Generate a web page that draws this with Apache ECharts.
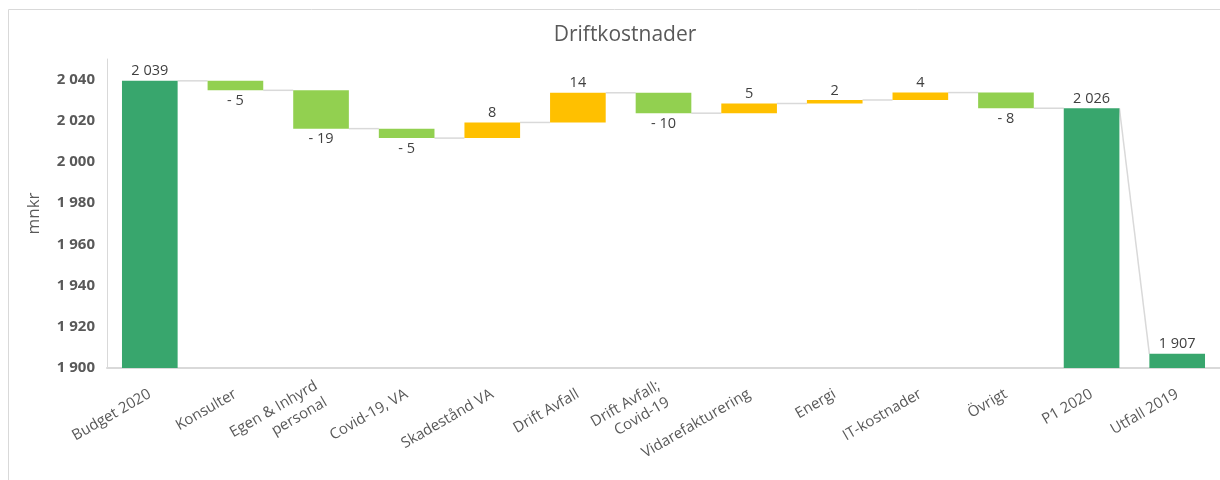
<!DOCTYPE html>
<html>
<head>
<meta charset="utf-8">
<script src="https://cdn.jsdelivr.net/npm/echarts@6/dist/echarts.min.js"></script>
<style>
  html, body { margin: 0; padding: 0; background: #fff; }
  #main { width: 1220px; height: 480px; }
</style>
</head>
<body>
<div id="main"></div>
<script>
// kategorier i ordning
var categories = ['Budget 2020', 'Konsulter', 'Egen & Inhyrd\npersonal', 'Covid-19, VA', 'Skadestånd VA',
    'Drift Avfall', 'Drift Avfall;\nCovid-19', 'Vidarefakturering', 'Energi', 'IT-kostnader', 'Övrigt',
    'P1 2020', 'Utfall 2019'];

// summor (mnkr)
var budget2020 = 2039.4;
var p12020 = 2026.1;
var utfall2019 = 1906.9;

// förändringar mellan budget och P1
var changes = [-4.6, -18.6, -4.6, 7.6, 14.4, -9.9, 4.7, 1.7, 3.6, -7.6];

var myChart = echarts.init(document.getElementById('main'));

function fmt(v) {
    var s = String(Math.round(Math.abs(v))).replace(/\B(?=(\d{3})+(?!\d))/g, ' ');
    return v < 0 ? '- ' + s : s;
}

// bygg upp osynlig bas + synliga staplar
var base = [0], up = ['-'], down = ['-'], total = [budget2020];
var start = [budget2020], end = [budget2020];
var level = budget2020;
changes.forEach(function (c) {
    var next = level + c;
    base.push(Math.min(level, next));
    up.push(c > 0 ? c : '-');
    down.push(c < 0 ? -c : '-');
    total.push('-');
    start.push(level);
    end.push(next);
    level = next;
});
[p12020, utfall2019].forEach(function (t) {
    base.push(0); up.push('-'); down.push('-'); total.push(t);
    start.push(t); end.push(t);
});

// förbindelselinjer mellan staplarna
var connectors = [];
for (var i = 0; i < categories.length - 1; i++) {
    connectors.push([i, end[i], start[i + 1]]);
}

var textColor = '#595959';
var font = 'Open Sans';

var option = {
    animation: false,
    textStyle: { fontFamily: font },
    graphic: [{
        type: 'rect',
        shape: { x: 8.5, y: 9.5, width: 1300, height: 600 },
        style: { fill: 'none', stroke: '#d9d9d9', lineWidth: 1 },
        silent: true
    }],
    title: {
        text: 'Driftkostnader',
        left: 620,
        top: 20,
        textAlign: 'center',
        textStyle: { fontFamily: font, fontSize: 21, fontWeight: 'normal', color: textColor }
    },
    grid: { left: 107, right: 0, top: 59, bottom: 112 },
    xAxis: {
        type: 'category',
        data: categories,
        axisLine: { lineStyle: { color: '#d9d9d9', width: 2 } },
        axisTick: { show: false },
        axisLabel: {
            interval: 0,
            rotate: 30,
            margin: 25,
            fontFamily: font,
            fontSize: 15,
            color: textColor,
            lineHeight: 19
        }
    },
    yAxis: {
        type: 'value',
        min: 1900,
        max: 2050,
        interval: 20,
        name: 'mnkr',
        nameLocation: 'middle',
        nameGap: 64,
        nameTextStyle: { fontFamily: font, fontSize: 17, color: textColor },
        splitLine: { show: false },
        axisTick: { show: false },
        axisLine: { show: true, lineStyle: { color: '#d9d9d9', width: 1 } },
        axisLabel: {
            showMaxLabel: false,
            margin: 12,
            fontFamily: font,
            fontSize: 15,
            fontWeight: 'bold',
            color: textColor,
            formatter: fmt
        }
    },
    series: [
        {
            type: 'custom',
            z: 1,
            data: connectors,
            encode: { x: 0, y: [1, 2] },
            renderItem: function (params, api) {
                var idx = api.value(0);
                var a = api.coord([idx, api.value(1)]);
                var b = api.coord([idx + 1, api.value(2)]);
                var half = api.size([1, 0])[0] * 0.65 / 2;
                return {
                    type: 'line',
                    shape: { x1: a[0] + half, y1: a[1], x2: b[0] - half, y2: b[1] },
                    style: { stroke: '#d9d9d9', lineWidth: 1.5 }
                };
            }
        },
        {
            name: 'bas',
            type: 'bar',
            stack: 'w',
            barWidth: '65%',
            z: 2,
            itemStyle: { color: 'transparent' },
            data: base
        },
        {
            name: 'Total',
            type: 'bar',
            stack: 'w',
            z: 2,
            itemStyle: { color: '#38a66d' },
            label: {
                show: true, position: 'top', distance: 2,
                fontFamily: font, fontSize: 14.5, color: '#404040',
                formatter: function (p) { return fmt(p.value); }
            },
            data: total
        },
        {
            name: 'Ökning',
            type: 'bar',
            stack: 'w',
            z: 2,
            itemStyle: { color: '#ffc000' },
            label: {
                show: true, position: 'top', distance: 2,
                fontFamily: font, fontSize: 14.5, color: '#404040',
                formatter: function (p) { return fmt(changes[p.dataIndex - 1]); }
            },
            data: up
        },
        {
            name: 'Minskning',
            type: 'bar',
            stack: 'w',
            z: 2,
            itemStyle: { color: '#92d050' },
            label: {
                show: true, position: 'bottom', distance: 3,
                fontFamily: font, fontSize: 14.5, color: '#404040',
                formatter: function (p) { return fmt(changes[p.dataIndex - 1]); }
            },
            data: down
        }
    ]
};

myChart.setOption(option);
</script>
</body>
</html>
